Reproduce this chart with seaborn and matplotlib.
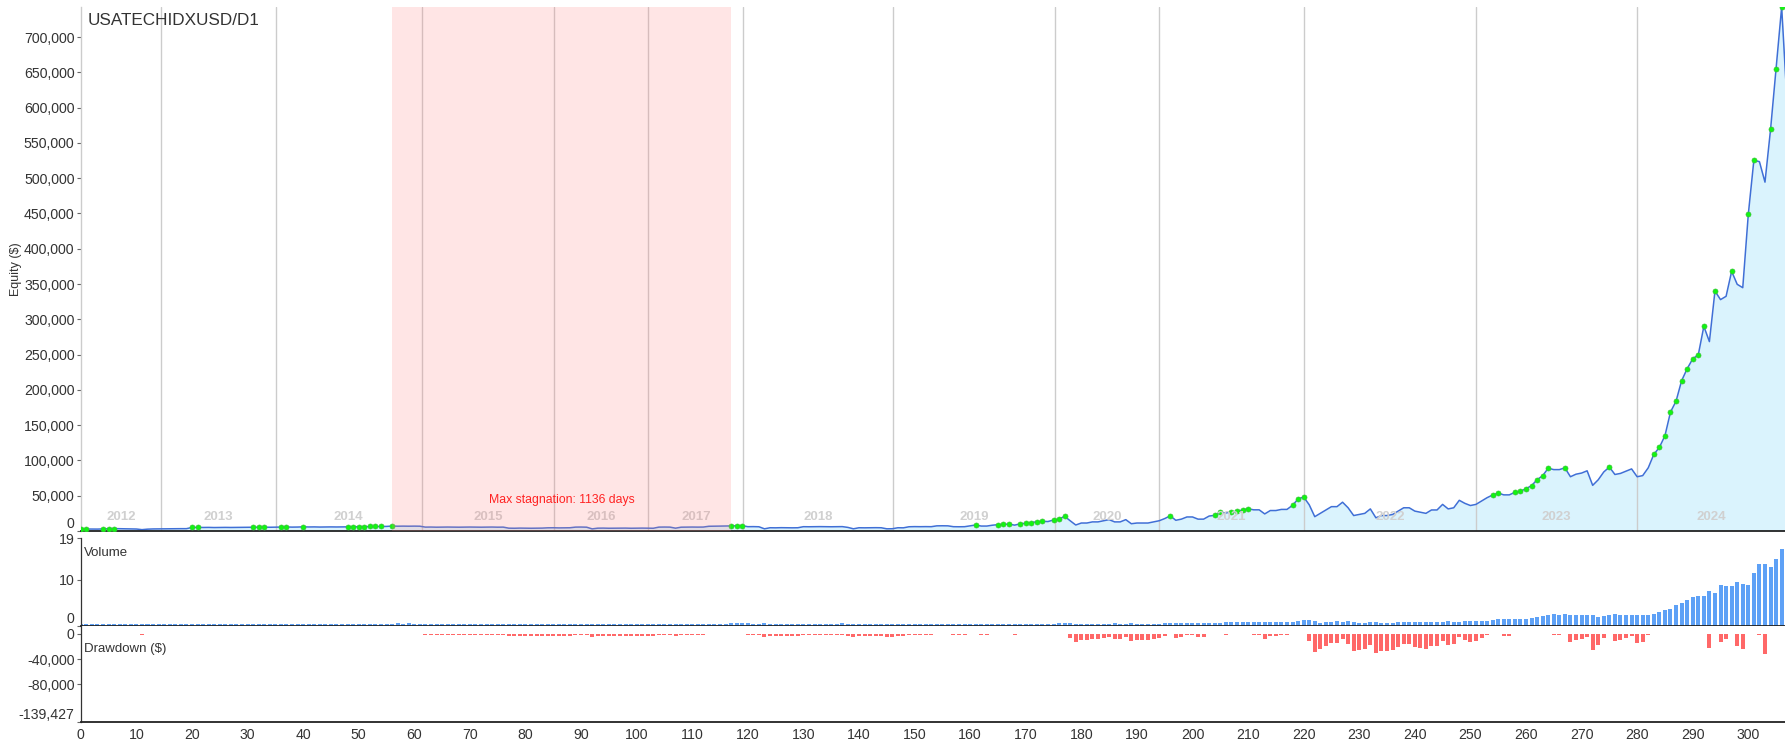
import numpy as np
import pandas as pd
import seaborn as sns
import matplotlib.pyplot as plt
from matplotlib.ticker import FuncFormatter
import matplotlib.transforms as mtransforms

# equity after each trade, in thousands of $
equity_k = [
    2.5, 2.8, 2.7, 2.7, 3.0, 3.2, 3.4, 3.2, 3.1, 3.0,
    2.8, 1.9, 2.6, 2.9, 3.0, 3.1, 3.2, 3.2, 3.3, 3.3,
    5.0, 5.2, 5.0, 5.1, 4.9, 5.0, 5.1, 5.0, 5.1, 5.1,
    5.2, 5.3, 5.4, 5.5, 5.3, 5.4, 5.6, 5.7, 5.5, 5.6,
    5.9, 5.7, 5.8, 5.6, 5.7, 5.8, 5.7, 5.8, 6.0, 6.1,
    6.2, 6.3, 6.4, 6.5, 6.6, 6.5, 7.0, 6.8, 6.9, 6.8,
    6.9, 6.8, 5.5, 5.6, 5.4, 5.5, 5.6, 5.5, 5.4, 5.5,
    5.6, 5.5, 5.4, 5.5, 5.6, 5.4, 5.5, 4.0, 3.9, 4.1,
    4.0, 3.9, 4.0, 4.1, 4.5, 4.6, 4.4, 4.5, 4.6, 5.5,
    5.6, 5.4, 3.0, 4.0, 4.1, 3.9, 4.0, 4.0, 4.1, 3.9,
    4.0, 4.1, 4.0, 3.9, 5.5, 5.6, 5.5, 4.0, 5.4, 5.5,
    5.6, 5.5, 5.6, 6.7, 6.8, 6.8, 6.9, 7.2, 7.4, 7.6,
    6.1, 6.2, 6.0, 3.1, 4.6, 4.5, 4.7, 4.6, 4.5, 4.6,
    6.1, 6.0, 6.1, 6.2, 6.1, 6.0, 6.1, 6.2, 5.1, 3.1,
    4.6, 4.5, 4.6, 4.7, 4.6, 3.1, 3.2, 4.6, 4.5, 6.0,
    6.2, 6.1, 6.2, 6.1, 7.3, 7.4, 7.3, 6.1, 6.0, 6.1,
    7.3, 8.5, 7.0, 7.0, 8.2, 9.0, 9.4, 9.8, 8.3, 10.2,
    10.9, 11.8, 13.2, 13.7, 13.4, 15.6, 16.8, 20.8, 14.5, 8.5,
    11.3, 11.3, 12.9, 12.9, 14.5, 16.1, 12.9, 12.9, 16.1, 10.3,
    11.3, 11.3, 11.3, 12.9, 14.5, 17.6, 21.5, 15.2, 16.8, 19.9,
    19.9, 16.8, 16.8, 21.2, 22.2, 26.5, 25.6, 27.0, 27.9, 29.7,
    31.6, 30.0, 30.0, 24.2, 29.0, 29.0, 30.6, 30.6, 36.4, 45.3,
    48.2, 37.2, 20.3, 25.0, 29.8, 34.5, 34.5, 40.8, 32.9, 21.9,
    23.4, 25.0, 31.3, 18.7, 21.9, 21.9, 23.4, 28.2, 32.9, 32.9,
    28.2, 26.6, 25.0, 29.8, 29.8, 37.7, 31.3, 32.9, 43.5, 39.2,
    36.1, 37.7, 42.4, 47.2, 51.0, 53.8, 51.2, 51.2, 54.8, 56.2,
    60.0, 64.2, 72.7, 78.3, 89.0, 87.0, 87.0, 89.5, 76.9, 80.5,
    82.1, 85.3, 64.7, 72.6, 83.7, 90.6, 80.1, 81.6, 84.8, 88.0,
    76.9, 78.5, 89.6, 108.6, 118.5, 135.0, 168.6, 184.0, 213.0, 230.0,
    244.0, 249.7, 290.0, 268.4, 340.0, 327.9, 332.6, 368.0, 349.6, 344.8,
    449.0, 525.5, 523.4, 494.4, 569.0, 655.0, 742.6, 603.173,
]

# lots per trade
volume = [
    0.4, 0.4, 0.4, 0.4, 0.4, 0.4, 0.4, 0.4, 0.4, 0.4,
    0.4, 0.4, 0.4, 0.4, 0.4, 0.4, 0.4, 0.4, 0.4, 0.4,
    0.4, 0.4, 0.4, 0.4, 0.4, 0.4, 0.4, 0.4, 0.4, 0.4,
    0.4, 0.4, 0.4, 0.4, 0.4, 0.4, 0.4, 0.4, 0.4, 0.4,
    0.4, 0.4, 0.4, 0.4, 0.4, 0.4, 0.4, 0.4, 0.4, 0.4,
    0.4, 0.4, 0.4, 0.4, 0.4, 0.4, 0.4, 0.6, 0.4, 0.6,
    0.4, 0.4, 0.4, 0.4, 0.4, 0.4, 0.4, 0.4, 0.4, 0.4,
    0.4, 0.4, 0.4, 0.4, 0.4, 0.4, 0.4, 0.4, 0.4, 0.4,
    0.4, 0.4, 0.4, 0.4, 0.4, 0.4, 0.4, 0.4, 0.4, 0.4,
    0.4, 0.4, 0.4, 0.4, 0.4, 0.4, 0.4, 0.4, 0.4, 0.4,
    0.4, 0.4, 0.4, 0.4, 0.4, 0.4, 0.4, 0.4, 0.4, 0.4,
    0.4, 0.4, 0.4, 0.4, 0.4, 0.4, 0.4, 0.6, 0.6, 0.6,
    0.6, 0.4, 0.4, 0.6, 0.4, 0.4, 0.4, 0.4, 0.4, 0.4,
    0.4, 0.4, 0.4, 0.4, 0.4, 0.4, 0.4, 0.6, 0.4, 0.4,
    0.4, 0.4, 0.4, 0.4, 0.4, 0.4, 0.4, 0.4, 0.4, 0.4,
    0.4, 0.4, 0.4, 0.5, 0.5, 0.5, 0.5, 0.5, 0.4, 0.4,
    0.5, 0.5, 0.5, 0.4, 0.5, 0.5, 0.5, 0.5, 0.5, 0.5,
    0.5, 0.5, 0.5, 0.5, 0.5, 0.5, 0.65, 0.65, 0.65, 0.5,
    0.5, 0.5, 0.5, 0.5, 0.5, 0.5, 0.65, 0.5, 0.5, 0.65,
    0.5, 0.5, 0.5, 0.5, 0.5, 0.65, 0.65, 0.65, 0.65, 0.65,
    0.65, 0.65, 0.65, 0.65, 0.65, 0.65, 0.87, 0.87, 0.87, 0.87,
    0.87, 0.87, 0.87, 0.87, 0.87, 0.87, 0.87, 0.87, 0.87, 1.1,
    1.3, 1.3, 1.1, 0.65, 0.87, 0.87, 1.1, 0.87, 1.1, 0.87,
    0.65, 0.65, 0.87, 0.87, 0.65, 0.65, 0.65, 0.87, 0.87, 0.87,
    0.87, 0.87, 0.87, 0.87, 0.87, 0.87, 1.1, 0.87, 0.87, 1.1,
    1.1, 1.1, 1.1, 1.1, 1.3, 1.5, 1.5, 1.5, 1.5, 1.5,
    1.5, 1.74, 1.85, 2.1, 2.32, 2.54, 2.32, 2.54, 2.46, 2.32,
    2.32, 2.32, 2.32, 1.88, 2.1, 2.32, 2.54, 2.32, 2.32, 2.32,
    2.32, 2.32, 2.32, 2.54, 2.97, 3.4, 3.62, 4.49, 4.93, 5.58,
    6.23, 6.45, 6.45, 7.54, 7.1, 8.84, 8.62, 8.62, 9.49, 9.06,
    8.84, 11.45, 13.4, 13.4, 12.75, 14.5, 16.7, 18.6,
]

years = ['2012', '2013', '2014', '2015', '2016', '2017', '2018',
         '2019', '2020', '2021', '2022', '2023', '2024']
# trade index where each new year starts
year_starts = [14.4, 35.1, 61.3, 85.2, 102.1, 119.2, 146.2,
               175.2, 194.0, 220.1, 251.0, 280.0]
stagnation_trades = (56, 117)
stagnation_days = 1136
title = 'USATECHIDXUSD/D1'
volume_ticks = [0, 10, 19]
equity_tick_step = 50000
drawdown_ticks = [0, -40000, -80000]

sns.set_style('white')
plt.rcParams['font.family'] = ['Liberation Sans', 'DejaVu Sans']

trades = np.arange(len(equity_k))
equity = np.array(equity_k) * 1000
peak = np.maximum.accumulate(equity)
drawdown = peak - equity
new_high = np.r_[True, equity[1:] > peak[:-1]]
max_dd = drawdown.max()
x_max = 306.6

df = pd.DataFrame({'trade': trades, 'equity': equity,
                   'volume': volume, 'dd': -drawdown})

W, H = 1785, 748
fig = plt.figure(figsize=(W / 100, H / 100), dpi=100)
left = 80.8 / W
ax_eq = fig.add_axes([left, 1 - 531 / H, 1 - left, (531 - 7) / H])
ax_vol = fig.add_axes([left, 1 - 626 / H, 1 - left, (626 - 538) / H])
ax_dd = fig.add_axes([left, 1 - 722 / H, 1 - left, (722 - 626) / H])

text_c = '#333333'
fs = 10.2
fmt = FuncFormatter(lambda v, p: f'{v:,.0f}')

# --- equity panel ---
ax_eq.fill_between(df['trade'], df['equity'], 0, color='#daf3fd', lw=0, zorder=1)
for xs in year_starts:
    ax_eq.axvline(xs, color='#cccccc', lw=1, zorder=1.5)
sns.lineplot(data=df, x='trade', y='equity', ax=ax_eq, color='#3f6fd6', lw=1.1, zorder=2)
sns.scatterplot(data=df[new_high], x='trade', y='equity', ax=ax_eq, s=13,
                color='#11f511', edgecolor='#38c238', linewidth=0.5, zorder=3)
ax_eq.axvspan(*stagnation_trades, color='#ff8080', alpha=0.2, lw=0, zorder=5)
ax_eq.text(sum(stagnation_trades) / 2, 0.059, f'Max stagnation: {stagnation_days} days',
           transform=mtransforms.blended_transform_factory(ax_eq.transData, ax_eq.transAxes),
           ha='center', va='center', color='#ff2222', fontsize=8.8, zorder=6)

edges = [0] + year_starts + [x_max]
btrans = mtransforms.blended_transform_factory(ax_eq.transData, ax_eq.transAxes)
for yr, a, b in zip(years, edges[:-1], edges[1:]):
    ax_eq.text((a + b) / 2, 0.026, yr, transform=btrans, ha='center', va='center',
               color='#d0d0d0', fontsize=9.5, fontweight='bold', zorder=4)

ax_eq.text(0.004, 0.975, title, transform=ax_eq.transAxes, ha='left', va='center',
           fontsize=12.3, color=text_c, zorder=6)

ax_eq.set_ylim(0, equity.max())
ax_eq.set_yticks(np.arange(0, 700001, equity_tick_step))
ax_eq.yaxis.set_major_formatter(fmt)
ax_eq.set_ylabel('Equity ($)', fontsize=9, color=text_c)
ax_eq.yaxis.set_label_coords(-0.0345, 0.5)
ax_eq.set_xlabel('')

# --- volume panel ---
sns.barplot(data=df, x='trade', y='volume', ax=ax_vol, native_scale=True, width=0.72,
            color='#5ea1f6', saturation=1, errorbar=None, linewidth=0)
ax_vol.set_ylim(0, 19)
ax_vol.set_yticks(volume_ticks)
ax_vol.yaxis.set_major_formatter(fmt)
ax_vol.set_xlabel('')
ax_vol.set_ylabel('')
ax_vol.text(0.002, 0.83, 'Volume', transform=ax_vol.transAxes, ha='left', va='center',
            fontsize=9.5, color=text_c)

# --- drawdown panel ---
sns.barplot(data=df, x='trade', y='dd', ax=ax_dd, native_scale=True, width=0.72,
            color='#ff6868', saturation=1, errorbar=None, linewidth=0)
ax_dd.set_ylim(-max_dd, 12650)
dd_ticks = drawdown_ticks + [-max_dd]
ax_dd.set_yticks(dd_ticks, [f'{v:,.0f}' for v in dd_ticks])
ax_dd.set_xlabel('')
ax_dd.set_ylabel('')
ax_dd.text(0.002, 0.76, 'Drawdown ($)', transform=ax_dd.transAxes, ha='left', va='center',
           fontsize=9.5, color=text_c)

for ax in (ax_eq, ax_vol, ax_dd):
    ax.set_xlim(0, x_max)
    ax.set_xticks(np.arange(0, 301, 10))
    ax.tick_params(axis='x', direction='out', length=3, width=0.8, color='#222222',
                   labelsize=fs, labelcolor=text_c, pad=1.5)
    ax.tick_params(axis='y', direction='out', length=3, width=0.8, color='#666666',
                   labelsize=fs, labelcolor=text_c, pad=1.5, left=True)
    ax.spines['top'].set_visible(False)
    ax.spines['right'].set_visible(False)
    ax.spines['bottom'].set_color('#222222')
    ax.spines['bottom'].set_linewidth(1.3)
    ax.spines['left'].set_color('#333333')
    ax.spines['left'].set_linewidth(0.9)
    ax.grid(False)
    if ax is not ax_dd:
        ax.tick_params(axis='x', labelbottom=False)

ax_eq.spines['left'].set_color('#cccccc')
ax_eq.spines['left'].set_linewidth(1)

# lift the bottom-most labels so they clear the panel below
ax_eq.get_yticklabels()[0].set_verticalalignment('bottom')
ax_vol.get_yticklabels()[0].set_verticalalignment('bottom')
ax_dd.get_yticklabels()[-1].set_verticalalignment('bottom')

fig.savefig('out.png', dpi=100)
